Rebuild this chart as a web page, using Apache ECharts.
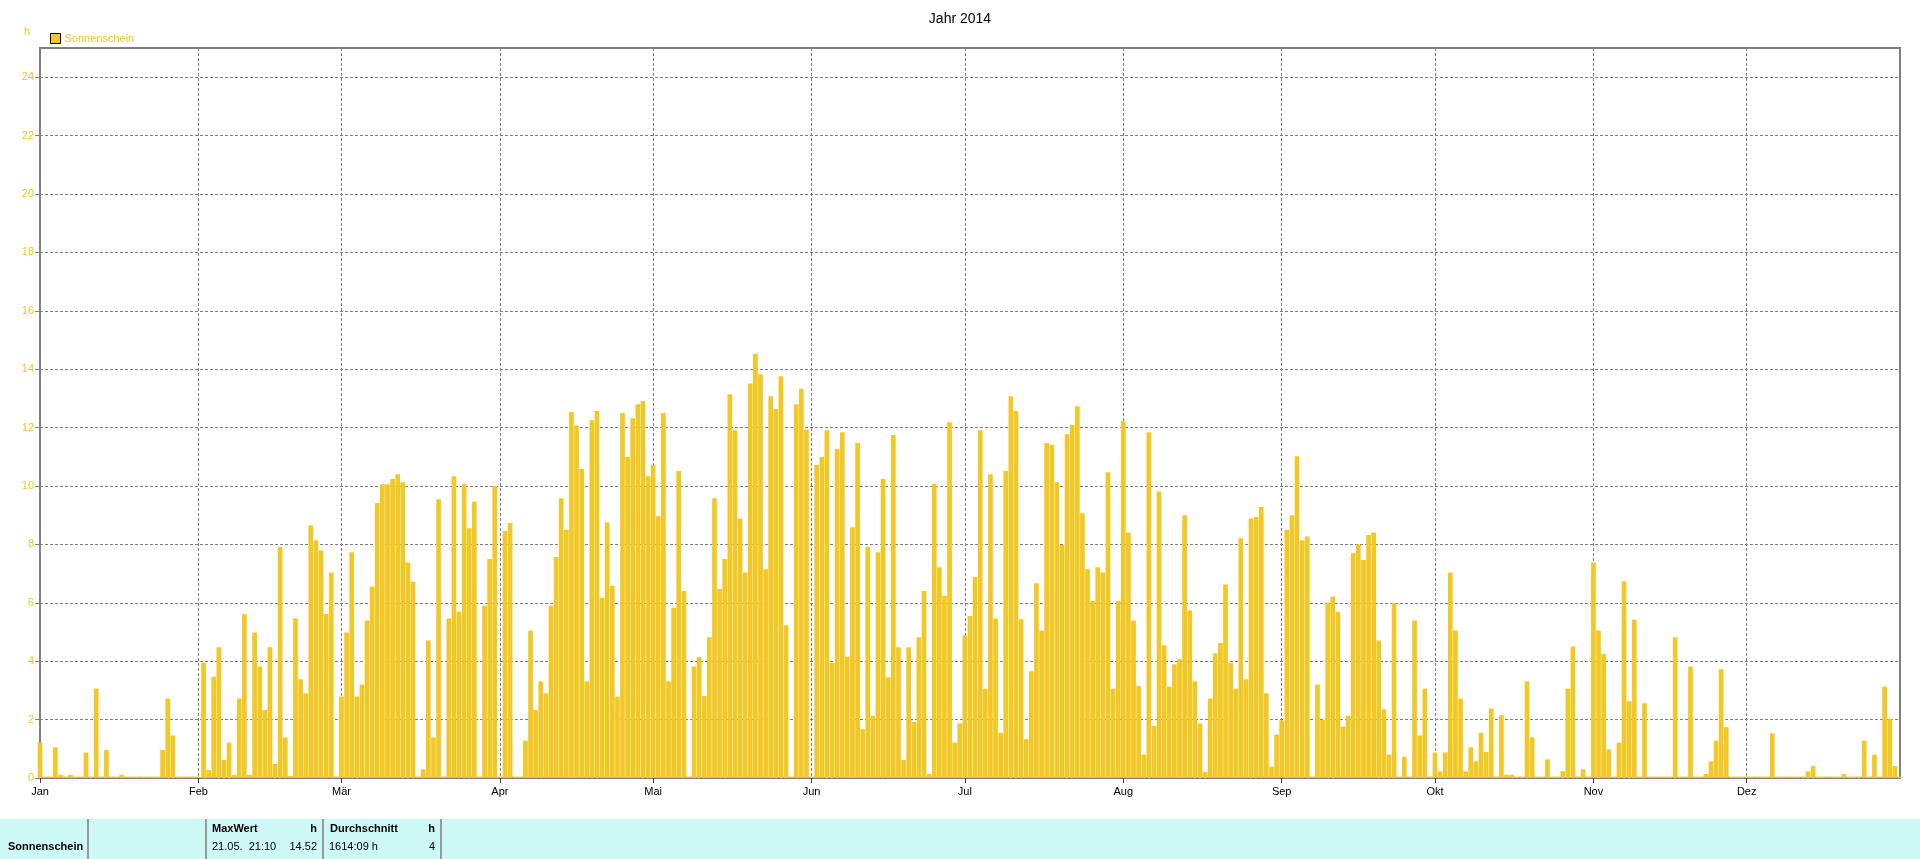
<!DOCTYPE html>
<html>
<head>
<meta charset="utf-8">
<script src="https://cdn.jsdelivr.net/npm/echarts/dist/echarts.min.js"></script>
<style>
html,body{margin:0;padding:0;background:#ffffff;}
#chart{width:1920px;height:859px;}
</style>
</head>
<body>
<div id="chart"></div>
<script>
// ---- tick labels / categories ----
const monthNames = ['Jan','Feb','Mär','Apr','Mai','Jun','Jul','Aug','Sep','Okt','Nov','Dez'];
const monthDays  = [31,28,31,30,31,30,31,31,30,31,30,31];

// ---- daily sunshine hours (h), 2014 ----
const jan = [1.21,0.05,0.05,1.05,0.11,0.05,0.11,0.05,0.05,0.87,0.05,3.06,0.05,0.96,0.05,0.05,0.11,0.05,0.05,0.05,0.05,0.05,0.05,0.05,0.96,2.72,1.46,0.05,0.05,0.05,0.05];
const feb = [0.05,3.95,0.27,3.47,4.48,0.62,1.21,0.11,2.72,5.62,0.11,4.98,3.82,2.33,4.48,0.48,7.91,1.39,0.07,5.46,3.38,2.90,8.66,8.14,7.79,5.62,7.04,0.05];
const mar = [2.79,4.98,7.73,2.79,3.20,5.39,6.56,9.42,10.06,10.06,10.24,10.40,10.13,7.38,6.72,0.05,0.30,4.71,1.39,9.55,0.05,5.46,10.33,5.69,10.06,8.55,9.46,0.05,5.90,7.50,10.01];
const apr = [0.05,8.46,8.73,0.05,0.05,1.28,5.05,2.33,3.31,2.90,5.90,7.57,9.58,8.50,12.53,12.07,10.58,3.31,12.25,12.57,6.17,8.75,6.58,2.79,12.50,10.99,12.32,12.80,12.91,10.33];
const mai = [10.72,8.96,12.50,3.31,5.83,10.51,6.40,0.05,3.82,4.14,2.81,4.82,9.58,6.47,7.50,13.14,11.91,8.89,7.04,13.51,14.52,13.83,7.15,13.07,12.64,13.76,5.23,0.05,12.80,13.33,11.93];
const jun = [0.05,10.72,10.99,11.91,3.95,11.27,11.84,4.16,8.59,11.47,1.67,7.91,2.13,7.73,10.24,3.45,11.75,4.48,0.62,4.48,1.92,4.82,6.40,0.14,10.08,7.22,6.24,12.18,1.21,1.87];
const jul = [4.89,5.55,6.88,11.91,3.06,10.40,5.46,1.55,10.51,13.07,12.57,5.44,1.33,3.66,6.67,5.05,11.47,11.41,10.13,7.98,11.77,12.09,12.73,9.07,7.15,6.06,7.22,7.04,10.47,3.06,6.06];
const aug = [12.23,8.41,5.39,3.15,0.80,11.84,1.78,9.81,4.55,3.13,3.89,4.07,9.00,5.74,3.31,1.87,0.21,2.72,4.27,4.62,6.63,3.95,3.06,8.21,3.38,8.89,8.94,9.28,2.90,0.39,1.49];
const sep = [1.97,8.50,9.00,11.02,8.14,8.27,0.05,3.20,1.99,6.01,6.22,5.69,1.76,2.13,7.70,8.00,7.47,8.32,8.41,4.71,2.35,0.80,5.99,0.05,0.73,0.05,5.39,1.46,3.06,0.05];
const okt = [0.87,0.23,0.87,7.04,5.05,2.72,0.23,1.05,0.57,1.55,0.89,2.38,0.05,2.15,0.11,0.11,0.05,0.05,3.31,1.39,0.05,0.05,0.64,0.05,0.05,0.23,3.06,4.50,0.05,0.30,0.05];
const nov = [7.38,5.05,4.25,0.98,0.05,1.21,6.74,2.63,5.42,0.05,2.56,0.05,0.05,0.05,0.05,0.05,4.82,0.05,0.05,3.82,0.05,0.05,0.14,0.57,1.28,3.73,1.74,0.05,0.05,0.05];
const dez = [0.05,0.05,0.05,0.05,0.05,1.53,0.05,0.05,0.05,0.05,0.05,0.05,0.23,0.41,0.05,0.05,0.05,0.05,0.05,0.14,0.05,0.05,0.05,1.28,0.05,0.80,0.05,3.13,2.03,0.41,0.05];

// ---- summary table ----
const seriesName   = 'Sonnenschein';
const maxWertDate  = '21.05.  21:10';
const maxWert      = '14.52';
const summeText    = '1614:09 h';
const durchschnitt = '4';

// ---- build category axis ----
const months = [jan,feb,mar,apr,mai,jun,jul,aug,sep,okt,nov,dez];
const categories = [];
const values = [];
const monthStartLabel = {};
months.forEach((arr, m) => {
  monthStartLabel[categories.length] = monthNames[m];
  for (let d = 0; d < monthDays[m]; d++) {
    categories.push(String(d + 1).padStart(2,'0') + '.' + String(m + 1).padStart(2,'0') + '.');
    values.push(arr[d]);
  }
});
const isMonthStart = (idx) => monthStartLabel.hasOwnProperty(idx);

const YELLOW = '#F2C827';
const LABEL_YELLOW = '#F0C426';
const GRID_GRAY = '#808080';
const FONT = '"Liberation Sans", Arial, sans-serif';

const chart = echarts.init(document.getElementById('chart'), null, {renderer: 'canvas'});
chart.setOption({
  animation: false,
  backgroundColor: '#ffffff',
  title: {
    text: 'Jahr 2014',
    left: 'center',
    top: 7,
    textStyle: {fontSize: 14, fontWeight: 'normal', color: '#000000', fontFamily: FONT}
  },
  legend: {
    data: [seriesName],
    left: 50,
    top: 33,
    icon: 'rect',
    itemWidth: 10,
    itemHeight: 10,
    itemGap: 4,
    padding: 0,
    itemStyle: {borderColor: '#000000', borderWidth: 1},
    textStyle: {color: LABEL_YELLOW, fontSize: 11, fontFamily: FONT, padding: [0,0,0,-1]}
  },
  grid: {
    left: 40, right: 20, top: 48, bottom: 81,
    containLabel: false,
    outerBoundsMode: 'none',
    show: true,
    borderColor: GRID_GRAY,
    borderWidth: 2,
    backgroundColor: 'transparent'
  },
  xAxis: {
    type: 'category',
    data: categories,
    boundaryGap: false,
    axisLine: {show: true, lineStyle: {color: GRID_GRAY, width: 2}},
    axisTick: {show: true, length: 5, interval: (i) => isMonthStart(i), lineStyle: {color: '#404040', width: 1}},
    axisLabel: {
      show: true,
      interval: (i) => isMonthStart(i),
      formatter: (v, i) => monthStartLabel[i] || '',
      color: '#000000',
      fontSize: 11,
      fontFamily: FONT,
      margin: 8
    },
    splitLine: {show: true, interval: (i) => isMonthStart(i), lineStyle: {color: GRID_GRAY, width: 1, type: [3,2]}}
  },
  yAxis: {
    type: 'value',
    min: 0,
    max: 25,
    interval: 2,
    axisLine: {show: true, lineStyle: {color: GRID_GRAY, width: 2}},
    axisTick: {show: true, length: 5, lineStyle: {color: GRID_GRAY, width: 1}},
    axisLabel: {
      show: true,
      showMaxLabel: false,
      color: LABEL_YELLOW,
      fontSize: 11,
      fontFamily: FONT,
      margin: 6
    },
    splitLine: {show: true, lineStyle: {color: GRID_GRAY, width: 1, type: [3,2]}}
  },
  series: [{
    name: seriesName,
    type: 'bar',
    data: values,
    barWidth: 4.7,
    clip: true,
    itemStyle: {color: YELLOW},
    emphasis: {disabled: true},
    silent: true
  }],
  graphic: [
    {type: 'text', left: 24, top: 26, style: {text: 'h', fill: LABEL_YELLOW, font: '11px ' + FONT}},
    {type: 'rect', shape: {x: 0, y: 819, width: 1920, height: 40}, style: {fill: '#CCF8F6'}, z: -1},
    {type: 'line', shape: {x1: 88, y1: 819, x2: 88, y2: 859}, style: {stroke: '#9A9A9A', lineWidth: 2}},
    {type: 'line', shape: {x1: 206, y1: 819, x2: 206, y2: 859}, style: {stroke: '#9A9A9A', lineWidth: 2}},
    {type: 'line', shape: {x1: 323, y1: 819, x2: 323, y2: 859}, style: {stroke: '#9A9A9A', lineWidth: 2}},
    {type: 'line', shape: {x1: 441, y1: 819, x2: 441, y2: 859}, style: {stroke: '#9A9A9A', lineWidth: 2}},
    {type: 'text', x: 8, y: 847, style: {text: seriesName, fill: '#000', font: 'bold 11px ' + FONT, textVerticalAlign: 'middle', textAlign: 'left'}},
    {type: 'text', x: 212, y: 829, style: {text: 'MaxWert', fill: '#000', font: 'bold 11px ' + FONT, textVerticalAlign: 'middle', textAlign: 'left'}},
    {type: 'text', x: 317, y: 829, style: {text: 'h', fill: '#000', font: 'bold 11px ' + FONT, textVerticalAlign: 'middle', textAlign: 'right'}},
    {type: 'text', x: 212, y: 847, style: {text: maxWertDate, fill: '#000', font: '11px ' + FONT, textVerticalAlign: 'middle', textAlign: 'left'}},
    {type: 'text', x: 317, y: 847, style: {text: maxWert, fill: '#000', font: '11px ' + FONT, textVerticalAlign: 'middle', textAlign: 'right'}},
    {type: 'text', x: 330, y: 829, style: {text: 'Durchschnitt', fill: '#000', font: 'bold 11px ' + FONT, textVerticalAlign: 'middle', textAlign: 'left'}},
    {type: 'text', x: 435, y: 829, style: {text: 'h', fill: '#000', font: 'bold 11px ' + FONT, textVerticalAlign: 'middle', textAlign: 'right'}},
    {type: 'text', x: 329, y: 847, style: {text: summeText, fill: '#000', font: '11px ' + FONT, textVerticalAlign: 'middle', textAlign: 'left'}},
    {type: 'text', x: 435, y: 847, style: {text: durchschnitt, fill: '#000', font: '11px ' + FONT, textVerticalAlign: 'middle', textAlign: 'right'}}
  ]
});
</script>
</body>
</html>
